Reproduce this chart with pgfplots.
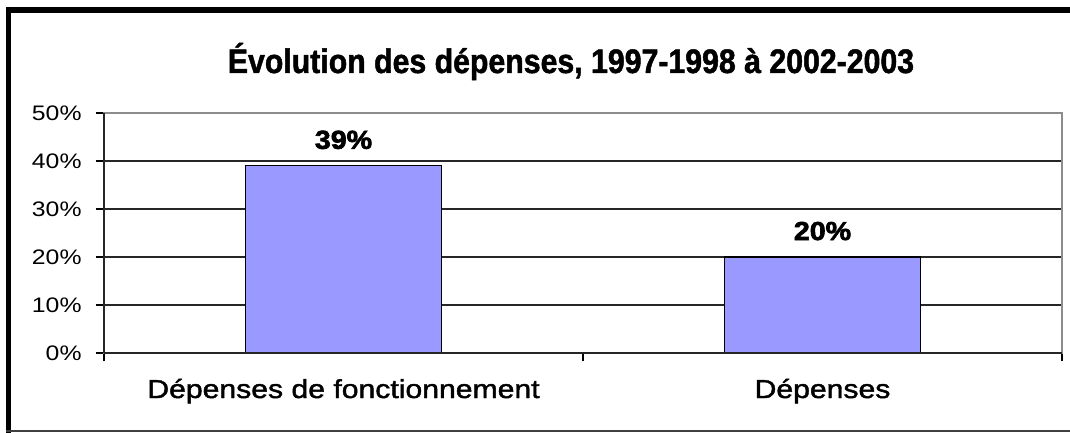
\documentclass[border=0pt]{standalone}
\usepackage{fontspec}
\setmainfont{Liberation Sans}[FakeStretch=1.18]
\newfontfamily\catfont{Liberation Sans}[FakeStretch=1.16,FakeBold=1.6]
\newfontfamily\titlefont{Liberation Sans}[FakeStretch=0.89,FakeBold=1.4]
\newfontfamily\labelfont{Liberation Sans}[FakeStretch=1.1,FakeBold=2.5]
\usepackage{pgfplots}
\pgfplotsset{compat=1.18}
\definecolor{barfill}{HTML}{9999FF}
\begin{document}
\begin{tikzpicture}
\useasboundingbox (0,0) rectangle (535bp,216.5bp);
\draw[line width=2.5bp] (4.25bp,0.2bp) -- (4.25bp,213bp);
\draw[line width=3bp] (3bp,211.5bp) -- (535bp,211.5bp);
\draw[line width=1bp, black!75] (3bp,1bp) -- (535bp,1bp);
\node[font=\titlefont\bfseries\fontsize{17bp}{20bp}\selectfont, anchor=base] at (285.5bp,180bp) {Évolution des dépenses, 1997-1998 à 2002-2003};
\begin{axis}[
  at={(52bp,40bp)}, anchor=south west,
  scale only axis, width=479bp, height=120bp,
  xmin=-0.5, xmax=1.5, ymin=0, ymax=50,
  /pgf/number format/assume math mode=true,
  xtick={-0.5,0.5,1.5}, xticklabels={},
  extra x ticks={0,1},
  extra x tick labels={Dépenses de fonctionnement, Dépenses},
  extra x tick style={major tick length=0pt, xticklabel style={anchor=base, yshift=-22.5bp}},
  ytick={0,10,20,30,40,50},
  yticklabel={\pgfmathprintnumber{\tick}\%},
  yticklabel style={font=\fontsize{10.5bp}{12bp}\selectfont, anchor=east, xshift=-3.5bp},
  xticklabel style={font=\catfont\fontsize{13bp}{15bp}\selectfont},
  tick pos=left, tick align=outside, major tick length=4.2bp,
  tick style={black, line width=0.6bp},
  ymajorgrids, major grid style={black!85, line width=0.6bp},
  axis line style={draw=black!45, line width=0.8bp},
  clip=false,
]
\addplot[ybar, bar width=98bp, fill=barfill, draw=black, line width=0.6bp,
  nodes near coords={\pgfmathprintnumber{\pgfplotspointmeta}\%},
  every node near coord/.append style={font=\labelfont\bfseries\fontsize{13bp}{15bp}\selectfont, anchor=base, yshift=8.5bp, black}]
  coordinates {(0,39) (1,20)};
\draw[black!85, line width=0.7bp] (rel axis cs:0,0) -- (rel axis cs:0,1);
\draw[black!85, line width=0.8bp] (rel axis cs:0,0) -- (rel axis cs:1,0);
\end{axis}
\end{tikzpicture}
\end{document}
